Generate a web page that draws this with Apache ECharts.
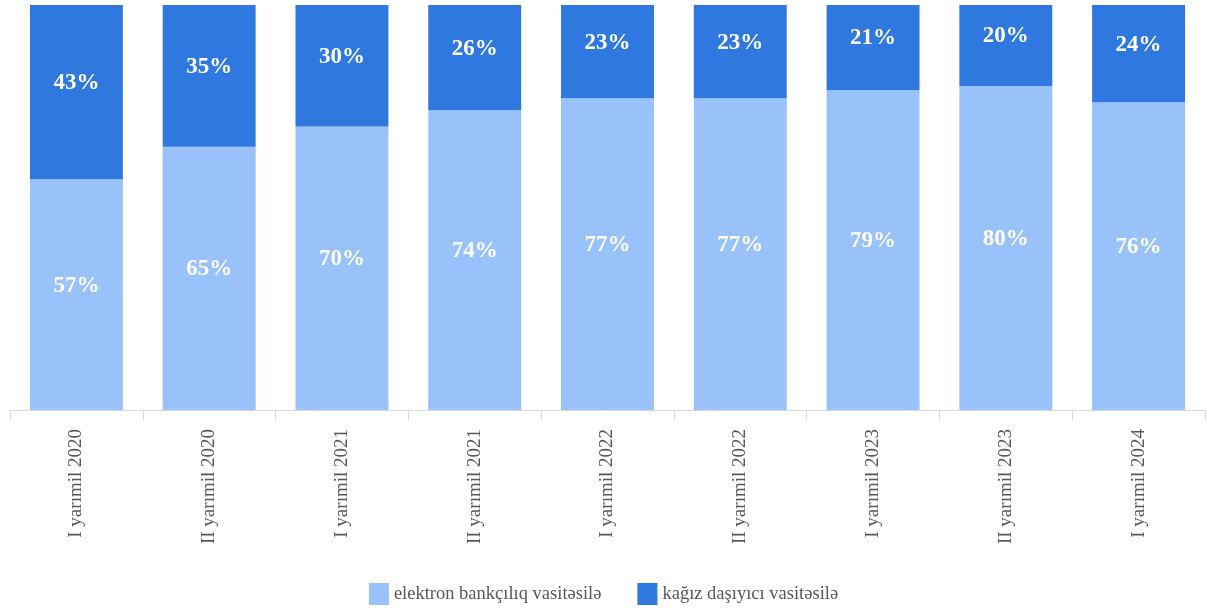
<!DOCTYPE html>
<html><head><meta charset="utf-8">
<script src="https://cdn.jsdelivr.net/npm/echarts@6/dist/echarts.min.js"></script>
<style>html,body{margin:0;padding:0;background:#fff}#c{width:1207px;height:610px}</style>
</head><body><div id="c"></div>
<script>
const categories = ["I yarımil 2020","II yarımil 2020","I yarımil 2021","II yarımil 2021","I yarımil 2022","II yarımil 2022","I yarımil 2023","II yarımil 2023","I yarımil 2024"];
const electronic = [57,65,70,74,77,77,79,80,76];
const paper = [43,35,30,26,23,23,21,20,24];
const seriesNames = ["elektron bankçılıq vasitəsilə","kağız daşıyıcı vasitəsilə"];

const labelStyle = {show:true, position:'inside', offset:[0,-9], color:'#fff', fontFamily:'Liberation Serif', fontWeight:'bold', fontSize:23, formatter:p=>p.value+'%'};
const chart = echarts.init(document.getElementById('c'));
chart.setOption({
  animation:false,
  grid:{left:10,right:2,top:5,bottom:200,containLabel:false},
  legend:{bottom:0,left:'center',itemWidth:20,itemHeight:22,itemGap:36,icon:'rect',
    textStyle:{fontFamily:'Liberation Serif',fontSize:18.5,color:'#595959'}},
  xAxis:{type:'category',data:categories,
    axisLine:{lineStyle:{color:'#d9d9d9',width:1}},
    axisTick:{show:true,length:10,lineStyle:{color:'#d9d9d9'}},
    axisLabel:{rotate:90,margin:19,fontFamily:'Liberation Serif',fontSize:19,color:'#595959'}},
  yAxis:{type:'value',min:0,max:100,show:false,splitLine:{show:false}},
  series:[
    {name:seriesNames[0],type:'bar',stack:'a',data:electronic,barWidth:'70%',itemStyle:{color:'#99c2fb'},label:labelStyle},
    {name:seriesNames[1],type:'bar',stack:'a',data:paper,barWidth:'70%',itemStyle:{color:'#2f78e0'},label:labelStyle}
  ]
});
</script></body></html>
